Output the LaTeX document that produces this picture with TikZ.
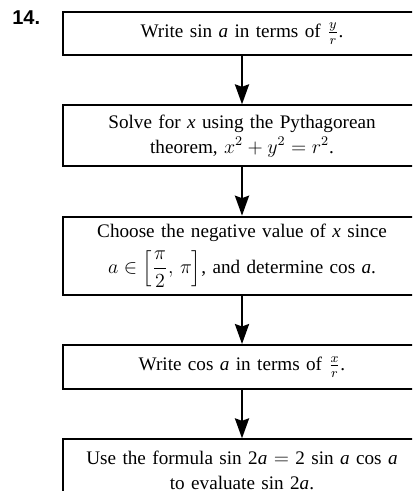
\documentclass[tikz,border=0pt]{standalone}
\usepackage{amsmath}
\usepackage{fontspec}
\setmainfont{Liberation Serif}
\newfontfamily\numfont{Liberation Sans}
\usetikzlibrary{arrows.meta,positioning}

\begin{document}
\begin{tikzpicture}[x=0.6pt, y=-0.6pt, node distance=29pt,
  every node/.style={font=\fontsize{11.5}{15}\selectfont, align=center},
  stepbox/.style={draw, line width=1.2pt, rectangle, text width=205pt, minimum width=214.8pt, inner sep=0pt},
  arr/.style={-{Stealth[length=12pt, width=8.5pt, inset=1.5pt]}, line width=1.2pt}]
  \useasboundingbox (0,0) rectangle (412,491);
  \clip (0,0) rectangle (412,491);
  % number
  \node[font=\numfont\bfseries\fontsize{12}{14}\selectfont, anchor=north west, inner sep=0pt] (num) at (12,10) {14.};
  % steps
  \node[stepbox, minimum height=25.8pt] (sine) at (242,33.5) {Write sin \textit{a} in terms of \mbox{$\frac{y}{r}$}.};
  \node[stepbox, minimum height=36.6pt, below=of sine] (pyth) {Solve for \textit{x} using the Pythagorean\\theorem, \mbox{$x^2+y^2=r^2$}.};
  \node[stepbox, minimum height=46.8pt, below=of pyth] (sign) {Choose the negative value of \textit{x} since\\[4pt]\mbox{$a\in\left[\dfrac{\pi}{2},\,\pi\right]$}, and determine cos \textit{a}.};
  \node[stepbox, minimum height=26.4pt, below=of sign] (cosine) {Write cos \textit{a} in terms of \mbox{$\frac{x}{r}$}.};
  \node[stepbox, minimum height=37pt, below=of cosine] (double) {Use the formula sin 2\textit{a} \mbox{$=$} 2 sin \textit{a} cos \textit{a}\\to evaluate sin 2\textit{a}.};

  % arrows
  \draw[arr] (sine) -- (pyth);
  \draw[arr] (pyth) -- (sign);
  \draw[arr] (sign) -- (cosine);
  \draw[arr] (cosine) -- (double);
\end{tikzpicture}
\end{document}
